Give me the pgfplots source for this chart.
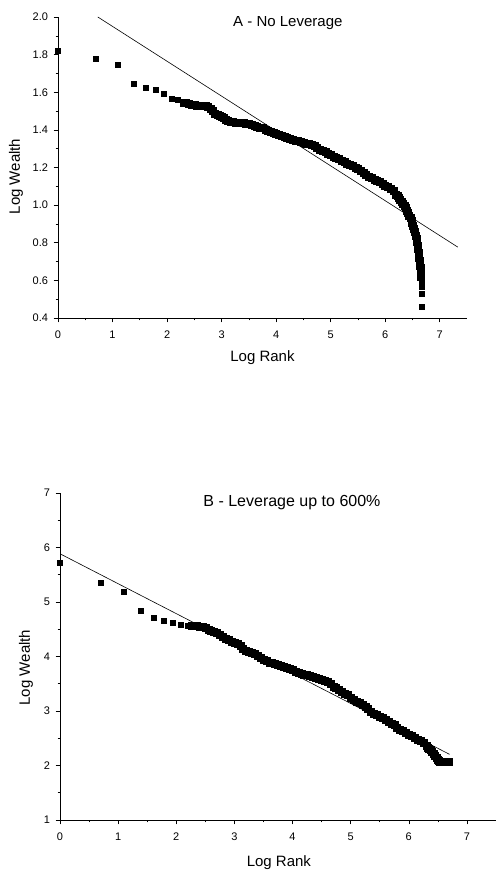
\documentclass[border=0pt]{standalone}
\usepackage{fontspec}
\setmainfont{Liberation Sans}
\usepackage{pgfplots}
\pgfplotsset{compat=1.18}
\pgfplotsset{
  common/.style={
    anchor=south west, scale only axis,
    xmin=0, xmax=7.5,
    axis x line=bottom, axis y line=left,
    axis line style={-, line width=0.7pt},
    tick align=outside,
    major tick length=4.5pt, minor tick length=2.5pt,
    every tick/.style={black, line width=0.6pt},
    minor x tick num=1, minor y tick num=1,
    xtick={0,1,2,3,4,5,6,7},
    xticklabels={0,1,2,3,4,5,6,7},
    /pgf/number format/assume math mode=true,
    ticklabel style={font=\fontsize{11}{13}\selectfont},
    xticklabel style={yshift=-4.5pt},
    yticklabel style={xshift=-2pt},
    label style={font=\fontsize{15}{18}\selectfont},
    xlabel={Log Rank}, ylabel={Log Wealth},
  },
  pts/.style={only marks, mark=square*, mark size=2.5pt, black},
  dense/.style={only marks, mark=square*, mark size=3.5pt, black},
}
\begin{document}
\begin{tikzpicture}[x=1pt,y=1pt]
\path[use as bounding box] (0,0) rectangle (496,872);
% ---------------- Panel A ----------------
\begin{axis}[common, at={(58pt,554pt)}, width=409pt, height=301pt,
  ymin=0.4, ymax=2.0,
  ytick={0.4,0.6,0.8,1.0,1.2,1.4,1.6,1.8,2.0},
  yticklabels={0.4,0.6,0.8,1.0,1.2,1.4,1.6,1.8,2.0},
  xlabel style={at={(axis description cs:0.5,-0.133)}, anchor=center},
  ylabel style={at={(axis description cs:-0.103,0.47)}, anchor=center},
]
\addplot[pts] table {
x y
0 1.823
0.693 1.777
1.099 1.745
1.386 1.645
1.609 1.622
1.792 1.613
1.946 1.593
2.079 1.565
2.197 1.559
6.665 0.580
6.665 0.566
6.665 0.530
6.665 0.460
};
\addplot[dense] table {
x y
2.31 1.547
2.35 1.543
2.40 1.539
2.45 1.536
2.50 1.533
2.55 1.531
2.60 1.530
2.65 1.529
2.70 1.526
2.75 1.523
2.80 1.515
2.84 1.500
2.88 1.486
2.92 1.481
2.96 1.477
3.00 1.472
3.04 1.463
3.08 1.456
3.12 1.447
3.16 1.442
3.20 1.441
3.25 1.440
3.30 1.439
3.35 1.438
3.40 1.437
3.45 1.435
3.50 1.433
3.55 1.429
3.60 1.424
3.65 1.419
3.70 1.414
3.75 1.409
3.80 1.401
3.85 1.393
3.90 1.388
3.95 1.383
4.00 1.378
4.05 1.372
4.10 1.367
4.15 1.362
4.20 1.356
4.25 1.351
4.30 1.348
4.35 1.344
4.40 1.340
4.45 1.336
4.50 1.332
4.55 1.328
4.60 1.324
4.65 1.319
4.70 1.314
4.75 1.306
4.80 1.297
4.85 1.289
4.90 1.282
4.95 1.274
5.00 1.267
5.05 1.260
5.10 1.252
5.15 1.245
5.20 1.238
5.25 1.230
5.30 1.222
5.35 1.215
5.40 1.207
5.45 1.199
5.50 1.191
5.55 1.182
5.60 1.171
5.65 1.162
5.70 1.152
5.75 1.144
5.80 1.137
5.85 1.130
5.90 1.122
5.95 1.114
6.00 1.105
6.05 1.096
6.10 1.086
6.15 1.074
6.20 1.058
6.225 1.049
6.25 1.040
6.275 1.030
6.30 1.020
6.325 1.009
6.35 0.997
6.375 0.984
6.40 0.970
6.42 0.958
6.44 0.946
6.46 0.932
6.48 0.918
6.495 0.905
6.51 0.891
6.525 0.875
6.54 0.858
6.555 0.840
6.57 0.820
6.58 0.803
6.59 0.785
6.60 0.766
6.61 0.745
6.615 0.733
6.62 0.720
6.628 0.705
6.635 0.690
6.64 0.678
6.645 0.665
6.65 0.652
6.655 0.640
6.658 0.628
6.66 0.622
};
\addplot[black, line width=0.6pt] coordinates {(0.73,2.0) (7.33,0.777)};
\node at (axis description cs:0.562,0.98) {\fontsize{15}{18}\selectfont A - No Leverage};
\end{axis}
% ---------------- Panel B ----------------
\begin{axis}[common, at={(60pt,52pt)}, width=436pt, height=327pt,
  ymin=1, ymax=7,
  ytick={1,2,3,4,5,6,7},
  yticklabels={1,2,3,4,5,6,7},
  xlabel style={at={(axis description cs:0.502,-0.131)}, anchor=center},
  ylabel style={at={(axis description cs:-0.078,0.466)}, anchor=center},
]
\addplot[pts] table {
x y
0 5.714
0.693 5.36
1.099 5.18
1.386 4.845
1.609 4.71
1.792 4.655
1.946 4.612
2.079 4.58
2.197 4.57
};
\addplot[dense] table {
x y
2.26 4.567
2.30 4.564
2.35 4.56
2.40 4.552
2.45 4.54
2.50 4.52
2.55 4.497
2.60 4.47
2.65 4.447
2.70 4.432
2.75 4.40
2.80 4.355
2.85 4.335
2.90 4.315
2.95 4.275
3.00 4.25
3.05 4.235
3.10 4.20
3.15 4.145
3.20 4.105
3.25 4.085
3.30 4.07
3.35 4.055
3.40 4.02
3.45 3.975
3.50 3.945
3.55 3.92
3.60 3.895
3.65 3.88
3.70 3.862
3.75 3.845
3.80 3.83
3.85 3.815
3.90 3.80
3.95 3.78
4.00 3.755
4.05 3.73
4.10 3.705
4.15 3.688
4.20 3.675
4.25 3.662
4.30 3.65
4.35 3.637
4.40 3.62
4.45 3.598
4.50 3.576
4.55 3.555
4.60 3.53
4.65 3.495
4.70 3.455
4.75 3.42
4.80 3.39
4.85 3.36
4.90 3.325
4.95 3.29
5.00 3.25
5.05 3.21
5.10 3.175
5.15 3.145
5.20 3.115
5.25 3.08
5.30 3.04
5.35 2.995
5.40 2.95
5.45 2.925
5.50 2.90
5.55 2.87
5.60 2.84
5.65 2.81
5.70 2.775
5.75 2.74
5.80 2.70
5.85 2.66
5.90 2.63
5.95 2.60
6.00 2.57
6.05 2.54
6.10 2.51
6.15 2.48
6.20 2.45
6.25 2.41
6.30 2.36
6.325 2.335
6.35 2.31
6.375 2.285
6.40 2.26
6.425 2.22
6.45 2.18
6.475 2.145
6.50 2.11
6.515 2.09
6.53 2.07
6.56 2.07
6.60 2.07
6.64 2.07
6.67 2.07
6.69 2.07
};
\addplot[black, line width=0.6pt] coordinates {(0,5.885) (6.70,2.205)};
\node at (axis description cs:0.532,0.972) {\fontsize{16}{19}\selectfont B - Leverage up to 600\%};
\end{axis}
\end{tikzpicture}
\end{document}
